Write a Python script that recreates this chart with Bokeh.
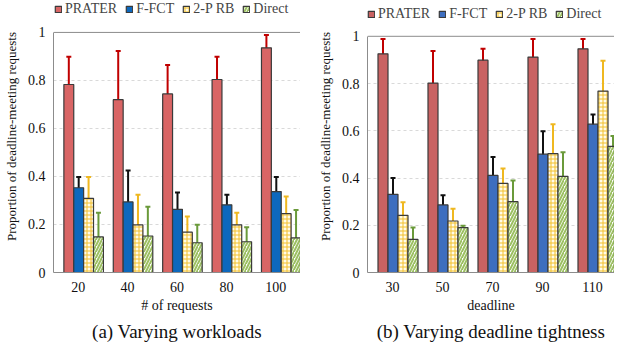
from bokeh.plotting import figure
from bokeh.layouts import row
from bokeh.models import (ColumnDataSource, Whisker, TeeHead, FixedTicker, Legend,
                          LegendItem, Range1d, Title, Span, LinearAxis)
from bokeh.embed import file_html
from bokeh.resources import INLINE

series = ["PRATER", "F-FCT", "2-P RB", "Direct"]

# ---- panel (a): varying workloads ----
workloads = ["20", "40", "60", "80", "100"]
wl_prater = [0.783, 0.720, 0.744, 0.804, 0.936]
wl_prater_lo = [0.698, 0.547, 0.581, 0.709, 0.847]
wl_prater_hi = [0.899, 0.923, 0.864, 0.899, 0.989]
wl_ffct = [0.353, 0.294, 0.263, 0.282, 0.337]
wl_ffct_lo = [0.247, 0.172, 0.198, 0.234, 0.276]
wl_ffct_hi = [0.398, 0.425, 0.333, 0.324, 0.398]
wl_2prb = [0.309, 0.198, 0.168, 0.198, 0.245]
wl_2prb_lo = [0.200, 0.047, 0.100, 0.137, 0.175]
wl_2prb_hi = [0.398, 0.324, 0.233, 0.249, 0.317]
wl_direct = [0.148, 0.152, 0.124, 0.128, 0.144]
wl_direct_lo = [0.047, 0.040, 0.063, 0.060, 0.098]
wl_direct_hi = [0.249, 0.274, 0.199, 0.189, 0.260]

# ---- panel (b): varying deadline tightness ----
deadlines = ["30", "50", "70", "90", "110"]
dl_prater = [0.926, 0.802, 0.899, 0.912, 0.947]
dl_prater_lo = [0.827, 0.690, 0.820, 0.838, 0.889]
dl_prater_hi = [0.989, 0.938, 0.947, 0.989, 0.989]
dl_ffct = [0.331, 0.286, 0.411, 0.501, 0.628]
dl_ffct_lo = [0.270, 0.246, 0.318, 0.409, 0.585]
dl_ffct_hi = [0.400, 0.327, 0.489, 0.598, 0.669]
dl_2prb = [0.242, 0.218, 0.377, 0.503, 0.768]
dl_2prb_lo = [0.195, 0.184, 0.288, 0.400, 0.640]
dl_2prb_hi = [0.297, 0.270, 0.440, 0.628, 0.897]
dl_direct = [0.140, 0.190, 0.300, 0.407, 0.534]
dl_direct_lo = [0.088, 0.160, 0.229, 0.311, 0.490]
dl_direct_hi = [0.190, 0.198, 0.389, 0.509, 0.578]

FONT = "Liberation Serif"
offsets = [-0.19, 0.01, 0.21, 0.41]
BAR_W = 0.2
err_colors = ["#c00000", "#111111", "#efb820", "#6a9a3a"]
FRAME_GRAY = "#8c8c8c"
H = 344


def make_panel(cats, vals, los, his, fills, caption, xlabel, width, border_left,
               x_end, y_end, legend_loc, right_border):
    p = figure(width=width, height=H, output_backend="svg", toolbar_location=None,
               x_range=Range1d(-0.5, x_end), y_range=Range1d(0, y_end),
               min_border_left=border_left, min_border_right=0,
               min_border_top=0, min_border_bottom=0)
    items = []
    for j, name in enumerate(series):
        xs = [i + offsets[j] for i in range(len(cats))]
        src = ColumnDataSource(dict(x=xs, top=vals[j], lo=los[j], hi=his[j]))
        kw = dict(x="x", top="top", bottom=0, width=BAR_W, source=src,
                  line_color="#3a3a3a", line_width=1.2)
        if j == 2:
            r = p.vbar(fill_color="#fffbe8", hatch_pattern="+", hatch_color="#f2c02e",
                       hatch_scale=4, hatch_weight=1, **kw)
        elif j == 3:
            r = p.vbar(fill_color="white", hatch_pattern="/", hatch_color="#9cc062",
                       hatch_scale=6, hatch_weight=2, **kw)
        else:
            r = p.vbar(fill_color=fills[j], **kw)
        items.append(LegendItem(label=name, renderers=[r]))
        w = Whisker(base="x", upper="hi", lower="lo", source=src,
                    line_color=err_colors[j], line_width=2,
                    upper_head=TeeHead(size=5, line_color=err_colors[j], line_width=2),
                    lower_head=TeeHead(size=5, line_color=err_colors[j], line_width=2))
        p.add_layout(w)

    legend = Legend(items=items, orientation="horizontal", location=legend_loc,
                    label_text_font=FONT, label_text_font_size="14px",
                    glyph_width=8, glyph_height=8, label_standoff=3, spacing=8,
                    padding=2, margin=0, border_line_color=None,
                    background_fill_alpha=0, label_height=14)
    p.add_layout(legend)

    # frame border at the top of the 0..1 scale
    p.add_layout(Span(location=1, dimension="width", line_color=FRAME_GRAY,
                      line_width=1))
    if right_border:
        rax = LinearAxis(bounds=(0, 1), axis_line_color=FRAME_GRAY,
                         major_tick_line_color=None, minor_tick_line_color=None,
                         major_tick_out=0, major_tick_in=0, minor_tick_out=0,
                         minor_tick_in=0, major_label_text_font_size="0px",
                         major_label_standoff=0, axis_label=None,
                         ticker=FixedTicker(ticks=[]))
        p.add_layout(rax, "right")

    xax = p.below[0]
    yax = p.left[0]
    xax.ticker = FixedTicker(ticks=list(range(len(cats))))
    xax.major_label_overrides = {i: c for i, c in enumerate(cats)}
    yax.ticker = FixedTicker(ticks=[0, 0.2, 0.4, 0.6, 0.8, 1])
    yax.major_label_overrides = {0: "0", 1: "1"}
    yax.bounds = (0, 1)
    for ax in (xax, yax):
        ax.major_tick_line_color = None
        ax.minor_tick_line_color = None
        ax.major_tick_out = 0
        ax.major_tick_in = 0
        ax.minor_tick_out = 0
        ax.minor_tick_in = 0
        ax.axis_line_color = FRAME_GRAY
        ax.major_label_text_font = FONT
        ax.major_label_text_font_size = "14px"
        ax.major_label_text_color = "#111111"
        ax.axis_label_text_font = FONT
        ax.axis_label_text_font_style = "normal"
        ax.axis_label_text_color = "#111111"
    xax.major_label_standoff = 9
    xax.axis_label = xlabel
    xax.axis_label_text_font_size = "14px"
    xax.axis_label_standoff = 3
    yax.axis_label = "Proportion of deadline-meeting requests"
    yax.axis_label_text_font_size = "13px"
    yax.axis_label_standoff = 6
    yax.major_label_standoff = 8
    p.xgrid.grid_line_color = None
    p.ygrid.ticker = FixedTicker(ticks=[0.2, 0.4, 0.6, 0.8])
    p.ygrid.grid_line_color = "#d9d9d9"
    p.ygrid.grid_line_dash = "3 3"
    p.outline_line_color = None
    p.title = Title(text=caption, align="center", text_font=FONT,
                    text_font_size="19px", text_font_style="normal",
                    text_color="#111111", standoff=6)
    p.title_location = "below"
    return p


p1 = make_panel(workloads,
                [wl_prater, wl_ffct, wl_2prb, wl_direct],
                [wl_prater_lo, wl_ffct_lo, wl_2prb_lo, wl_direct_lo],
                [wl_prater_hi, wl_ffct_hi, wl_2prb_hi, wl_direct_hi],
                ["#d96565", "#0d68bd", None, None],
                "(a) Varying workloads", "# of requests", 300, 44, 4.5, 1.133,
                (1, 255), True)
p2 = make_panel(deadlines,
                [dl_prater, dl_ffct, dl_2prb, dl_direct],
                [dl_prater_lo, dl_ffct_lo, dl_2prb_lo, dl_direct_lo],
                [dl_prater_hi, dl_ffct_hi, dl_2prb_hi, dl_direct_hi],
                ["#c96262", "#3d6ebf", None, None],
                "(b) Varying deadline tightness", "deadline", 314, 67, 4.44, 1.1516,
                (0, 250), False)

layout = row(p1, p2)
open("out.html", "w").write(file_html(layout, INLINE))
